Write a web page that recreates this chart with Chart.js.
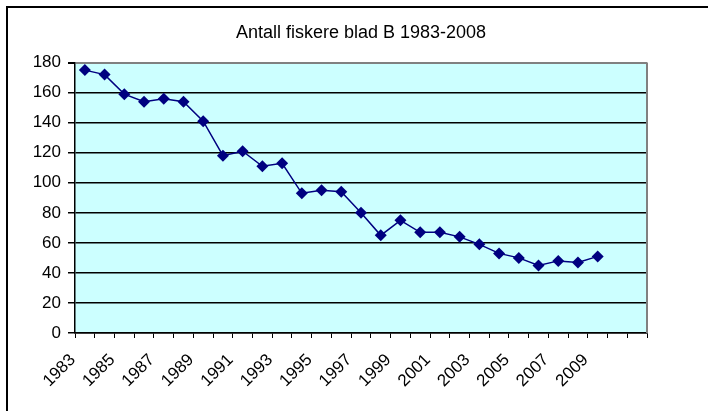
<!DOCTYPE html>
<html>
<head>
<meta charset="utf-8">
<script src="https://cdn.jsdelivr.net/npm/chart.js@4.4.0/dist/chart.umd.min.js"></script>
<style>
    html, body { margin: 0; padding: 0; background: #fff; }
    #wrap { width: 708px; height: 411px; position: relative; }
</style>
</head>
<body>
<div id="wrap"><canvas id="fiskereChart"></canvas></div>
<script>
// Categories: 1983-2009 plus two empty slots at the end of the axis
const years = ['1983', '1984', '1985', '1986', '1987', '1988', '1989', '1990', '1991', '1992',
    '1993', '1994', '1995', '1996', '1997', '1998', '1999', '2000', '2001', '2002',
    '2003', '2004', '2005', '2006', '2007', '2008', '2009', '', ''];

// Number of fishers per year
const fishers = [175, 172, 159, 154, 156, 154, 141, 118, 121, 111,
    113, 93, 95, 94, 80, 65, 75, 67, 67, 64,
    59, 53, 50, 45, 48, 47, 51];

const yMin = 0;
const yMax = 180;
const yStep = 20;

const chartTitle = 'Antall fiskere blad B 1983-2008';

// Plot background, outer frame and grey right border
const framePlugin = {
    id: 'frame',
    beforeDraw(chart) {
        const ctx = chart.ctx;
        const area = chart.chartArea;
        ctx.save();
        ctx.fillStyle = '#ccffff';
        ctx.fillRect(area.left, area.top, area.right - area.left, area.bottom - area.top);
        ctx.strokeStyle = '#000';
        ctx.lineWidth = 2;
        ctx.beginPath();
        ctx.moveTo(7, chart.height);
        ctx.lineTo(7, 7);
        ctx.lineTo(chart.width, 7);
        ctx.stroke();
        ctx.restore();
    },
    beforeDatasetsDraw(chart) {
        const ctx = chart.ctx;
        const area = chart.chartArea;
        ctx.save();
        ctx.strokeStyle = '#808080';
        ctx.lineWidth = 2;
        ctx.beginPath();
        ctx.moveTo(Math.round(area.right), area.top);
        ctx.lineTo(Math.round(area.right), area.bottom);
        ctx.stroke();
        ctx.restore();
    }
};

const ctx = document.getElementById('fiskereChart').getContext('2d');

new Chart(ctx, {
    type: 'line',
    data: {
        labels: years,
        datasets: [{
            label: 'Antall fiskere',
            data: fishers,
            borderColor: '#000080',
            backgroundColor: '#000080',
            borderWidth: 1.5,
            pointStyle: 'rectRot',
            pointRadius: 6,
            pointHoverRadius: 6,
            pointBorderWidth: 0,
            tension: 0
        }]
    },
    options: {
        responsive: true,
        maintainAspectRatio: false,
        devicePixelRatio: 1,
        animation: false,
        layout: {
            padding: { left: 0, right: 61, top: 0, bottom: 0 }
        },
        plugins: {
            legend: { display: false },
            tooltip: { enabled: false },
            title: {
                display: true,
                text: chartTitle,
                fullSize: false,
                color: '#000',
                font: { family: '"Liberation Sans", Arial, sans-serif', size: 18, weight: 'normal' },
                padding: { top: 22, bottom: 19 }
            }
        },
        scales: {
            x: {
                type: 'category',
                offset: true,
                afterFit(scale) { scale.height = 78; },
                grid: {
                    display: true,
                    offset: true,
                    drawOnChartArea: false,
                    drawTicks: true,
                    tickLength: 5,
                    color: '#000',
                    lineWidth: 1
                },
                border: { display: true, color: '#000', width: 1.5 },
                ticks: {
                    autoSkip: false,
                    minRotation: 45,
                    maxRotation: 45,
                    labelOffset: -12,
                    padding: 12,
                    color: '#000',
                    font: { family: '"Liberation Sans", Arial, sans-serif', size: 17 },
                    callback(value, index) {
                        return index % 2 === 0 ? this.getLabelForValue(value) : '';
                    }
                }
            },
            y: {
                min: yMin,
                max: yMax,
                afterFit(scale) { scale.width = 75; },
                grid: {
                    color(c) { return c.tick && c.tick.value === yMax ? '#808080' : '#000'; },
                    lineWidth(c) { return c.tick && c.tick.value === yMax ? 2 : 1.5; },
                    drawTicks: true,
                    tickLength: 7,
                    tickColor: '#000'
                },
                border: { display: true, color: '#000', width: 1.5 },
                ticks: {
                    stepSize: yStep,
                    padding: 7,
                    color: '#000',
                    font: { family: '"Liberation Sans", Arial, sans-serif', size: 17 }
                }
            }
        }
    },
    plugins: [framePlugin]
});
</script>
</body>
</html>
